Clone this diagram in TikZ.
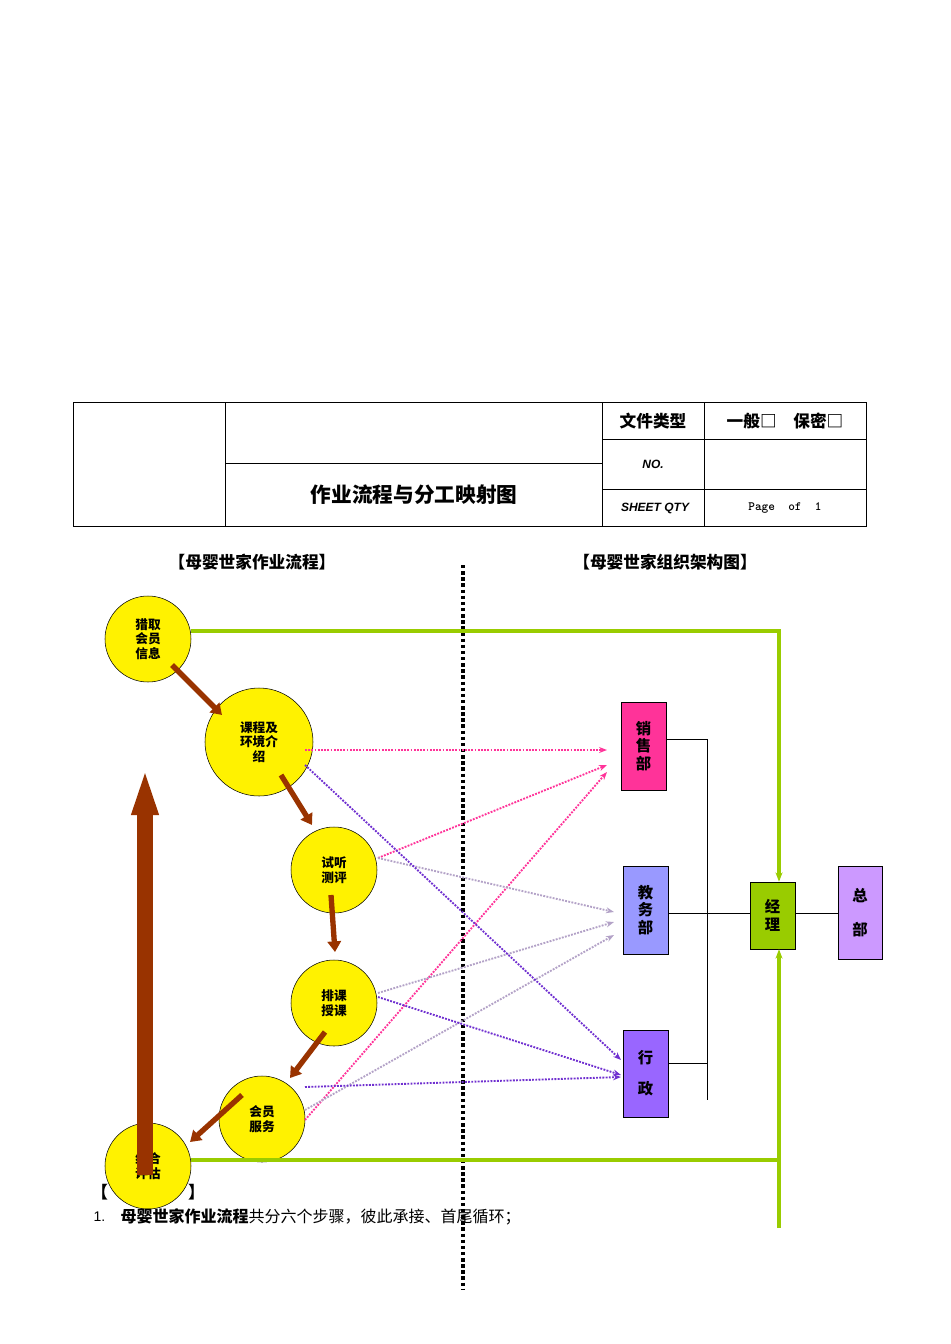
\documentclass[tikz,border=0pt]{standalone}
\usepackage{fontspec}
\setmainfont{Liberation Sans}
\newfontfamily\cjk{Noto Sans CJK SC}
\usetikzlibrary{arrows.meta}
\definecolor{grn}{HTML}{99CC00}
\definecolor{pnk}{HTML}{FF3399}
\definecolor{lil}{HTML}{B3A2C7}
\definecolor{pur}{HTML}{7030D0}
\definecolor{brn}{HTML}{993300}
\begin{document}
\begin{tikzpicture}[x=0.75pt,y=-0.75pt,
 circ/.style={circle,draw=black,fill=yellow,minimum size=86*0.75pt,inner sep=0pt,align=center,font=\cjk\bfseries\fontsize{9.5}{11}\selectfont},
 org/.style={draw=black,minimum width=45*0.75pt,align=center,font=\cjk\bfseries\fontsize{11.5}{13}\selectfont,inner sep=1pt},
 garr/.style={grn,line width=2.4pt},
 barr/.style={brn,line width=4pt,-{Triangle[length=8pt,width=10pt]}},
 dot/.style={densely dotted,line width=1.4pt,-{Stealth[length=6pt]}},
 tt/.style={font=\cjk\bfseries\fontsize{12.5}{14}\selectfont}]
\useasboundingbox (0,0) rectangle (950,1344);
% table
\draw[line width=0.5pt] (73,402) rectangle (866,526);
\draw (225,402)--(225,526) (602,402)--(602,526) (704,402)--(704,526)
 (225,463)--(602,463) (602,439)--(866,439) (602,489)--(866,489);
\node[tt] (t1) at (653,421) {文件类型};
\node[tt] (t2) at (785,421) {一般□\quad 保密□};
\node[font=\bfseries\itshape\fontsize{9}{11}\selectfont] (t3) at (653,464) {NO.};
\node[font=\bfseries\itshape\fontsize{9}{11}\selectfont] (t4) at (655,508) {SHEET QTY};
\node[font=\ttfamily\bfseries\fontsize{9.5}{11}\selectfont] (t5) at (785,508) {Page\ \ of\ \ 1};
\node[font=\cjk\bfseries\fontsize{15.5}{17}\selectfont] (t6) at (414,495) {作业流程与分工映射图};
\node[tt] (h1) at (252,562) {【母婴世家作业流程】};
\node[tt] (h2) at (665,562) {【母婴世家组织架构图】};
% bracket line partly hidden
\node[tt] (h3) at (148,1192) {【\hspace{60pt}】};
% separator
\draw[line width=2.6pt,dotted] (463,565)--(463,1290);
% org
\node[org,fill=pnk,minimum height=88*0.75pt] (xs) at (643.5,746) {销\\售\\部};
\node[org,fill={rgb,255:red,153;green,153;blue,255},minimum height=88*0.75pt] (jw) at (645.5,910) {教\\务\\部};
\node[org,fill={rgb,255:red,153;green,102;blue,255},minimum height=87*0.75pt] (xz) at (645.5,1073.5) {行\\[10pt]政};
\node[org,fill=grn,minimum height=67*0.75pt] (jl) at (772.5,915.5) {经\\理};
\node[org,fill={rgb,255:red,204;green,153;blue,255},minimum height=93*0.75pt,minimum width=44*0.75pt] (zb) at (860,912.5) {总\\[12pt]部};
\draw (xs.east|-0,739)--(707,739)--(707,1100);
\draw (xz.east|-0,1063)--(707,1063);
\draw (jw.east|-0,913)--(jl.west|-0,913);
\draw (jl.east|-0,913)--(zb.west|-0,913);
% circles
\node[circ] (c1) at (148,639) {猎取\\会员\\信息};
\node[circ,minimum size=108*0.75pt] (c2) at (259,742) {课程及\\环境介\\绍};
\node[circ] (c3) at (334,870) {试听\\测评};
\node[circ] (c4) at (334,1003) {排课\\授课};
\node[circ] (c5) at (262,1119) {会员\\服务};
\node[circ] (c6) at (148,1166) {综合\\评估};
% green
\coordinate (g1) at (779,631); \coordinate (g2) at (779,1160); \coordinate (g3) at (779,1228);
\draw[garr,-{Stealth[length=7pt]}] (c1.east|-0,631)--(g1)--(jl.north-|g1);
\draw[garr] (c6.east|-0,1160)--(g2);
\draw[garr,-{Stealth[length=7pt]}] (g3)--(jl.south-|g1);
% dotted arrows
\coordinate (p1) at (305,750); \coordinate (p2) at (378,858); \coordinate (p3) at (305,1120);
\draw[dot,pnk] (p1)--(607,750);
\draw[dot,pnk] (p2)--(607,765);
\draw[dot,pnk] (p3)--(607,772);
\draw[dot,lil] (p2)--(614,912);
\draw[dot,lil] (378,993)--(614,922);
\draw[dot,lil] (305,1110)--(614,935);
\draw[dot,pur] (305,765)--(621,1060);
\draw[dot,pur] (378,997)--(621,1075);
\draw[dot,pur] (305,1087)--(621,1077);
% brown arrows
\draw[barr] (172,665)--(222,715);
\draw[barr] (281,775)--(312,825);
\draw[barr] (331,895)--(335,952);
\draw[barr] (325,1032)--(290,1078);
\draw[barr] (242,1095)--(190,1142);
\draw[brn,line width=12pt,-{Triangle[length=90pt,width=14pt]}] (145,1175)--(145,695);
% bottom text
\node[anchor=west,font=\fontsize{10.5}{12}\selectfont] (n1) at (89,1217) {1.};
\node[anchor=west,font=\cjk\fontsize{12}{14}\selectfont] (n2) at (116,1217) {\textbf{母婴世家作业流程}共分六个步骤，彼此承接、首尾循环；};
\end{tikzpicture}
\end{document}
